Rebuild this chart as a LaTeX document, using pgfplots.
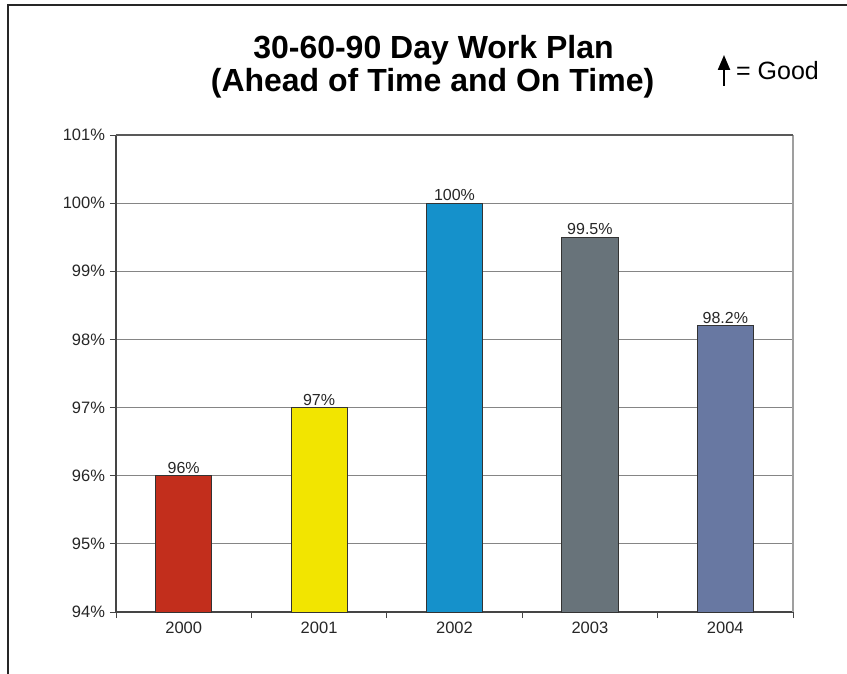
\documentclass[border=0pt]{standalone}
\usepackage{fontspec}
\setmainfont{Liberation Sans}
\usepackage{pgfplots}
\pgfplotsset{compat=1.18}
\usetikzlibrary{arrows.meta}

\definecolor{bar2000}{HTML}{C22E1C}
\definecolor{bar2001}{HTML}{F2E500}
\definecolor{bar2002}{HTML}{1591CB}
\definecolor{bar2003}{HTML}{68737A}
\definecolor{bar2004}{HTML}{6878A2}
\definecolor{gridgray}{HTML}{858585}
\definecolor{axisdark}{HTML}{454545}

\begin{document}
\begin{tikzpicture}[x=1pt,y=1pt]
\useasboundingbox (0,0) rectangle (847,673);
% outer frame (left and top edges visible)
\draw[line width=2pt, black!85] (8,-5) -- (8,668) -- (852,668);

% titles
\node[anchor=base, font=\fontsize{32}{34}\selectfont\bfseries] at (433.5,614) {30-60-90 Day Work Plan};
\node[anchor=base, font=\fontsize{32}{34}\selectfont\bfseries] at (432.5,581) {(Ahead of Time and On Time)};
\draw[line width=2.2pt, -{Triangle[length=15pt,width=12pt]}] (724,587) -- (724,618);
\node[anchor=base west, inner sep=0pt, font=\fontsize{25}{27}\selectfont] at (736,593) {= Good};

\begin{axis}[
    at={(116pt,61pt)}, anchor=south west,
    width=677pt, height=477pt, scale only axis,
    xmin=-0.5, xmax=4.5,
    ymin=94, ymax=101,
    axis x line*=bottom, axis y line*=left,
    axis line style={axisdark, line width=1.6pt},
    tick align=outside,
    xtick={0,1,2,3,4},
    xticklabels={2000,2001,2002,2003,2004},
    major x tick style={draw=none},
    minor xtick={-0.5,0.5,1.5,2.5,3.5,4.5},
    minor x tick style={axisdark, line width=0.8pt},
    minor tick length=6pt,
    major tick length=6pt,
    ytick={94,95,...,101},
    y tick style={axisdark, line width=0.8pt},
    yticklabel={\pgfmathprintnumber{\tick}\%},
    yticklabel style={xshift=-1.5pt},
    /pgf/number format/assume math mode=true,
    tick label style={font=\fontsize{16.5}{18}\selectfont, text=black!85},
    ymajorgrids,
    major grid style={gridgray, line width=1pt},
    bar width=0.414,
    nodes near coords={\pgfmathprintnumber{\pgfplotspointmeta}\%},
    nodes near coords style={font=\fontsize{16}{18}\selectfont, text=black!85, inner sep=2pt, anchor=south},
    clip=false,
]
\addplot[ybar, bar shift=0pt, fill=bar2000, draw=black!80, line width=0.8pt] coordinates {(0,96)};
\addplot[ybar, bar shift=0pt, fill=bar2001, draw=black!80, line width=0.8pt] coordinates {(1,97)};
\addplot[ybar, bar shift=0pt, fill=bar2002, draw=black!80, line width=0.8pt] coordinates {(2,100)};
\addplot[ybar, bar shift=0pt, fill=bar2003, draw=black!80, line width=0.8pt] coordinates {(3,99.5)};
\addplot[ybar, bar shift=0pt, fill=bar2004, draw=black!80, line width=0.8pt] coordinates {(4,98.2)};
\draw[gray!75, line width=2.5pt] (rel axis cs:1,0) -- (rel axis cs:1,1);
\draw[black!65, line width=1.2pt] (rel axis cs:0,1) -- (rel axis cs:1,1);
\end{axis}
\end{tikzpicture}
\end{document}
